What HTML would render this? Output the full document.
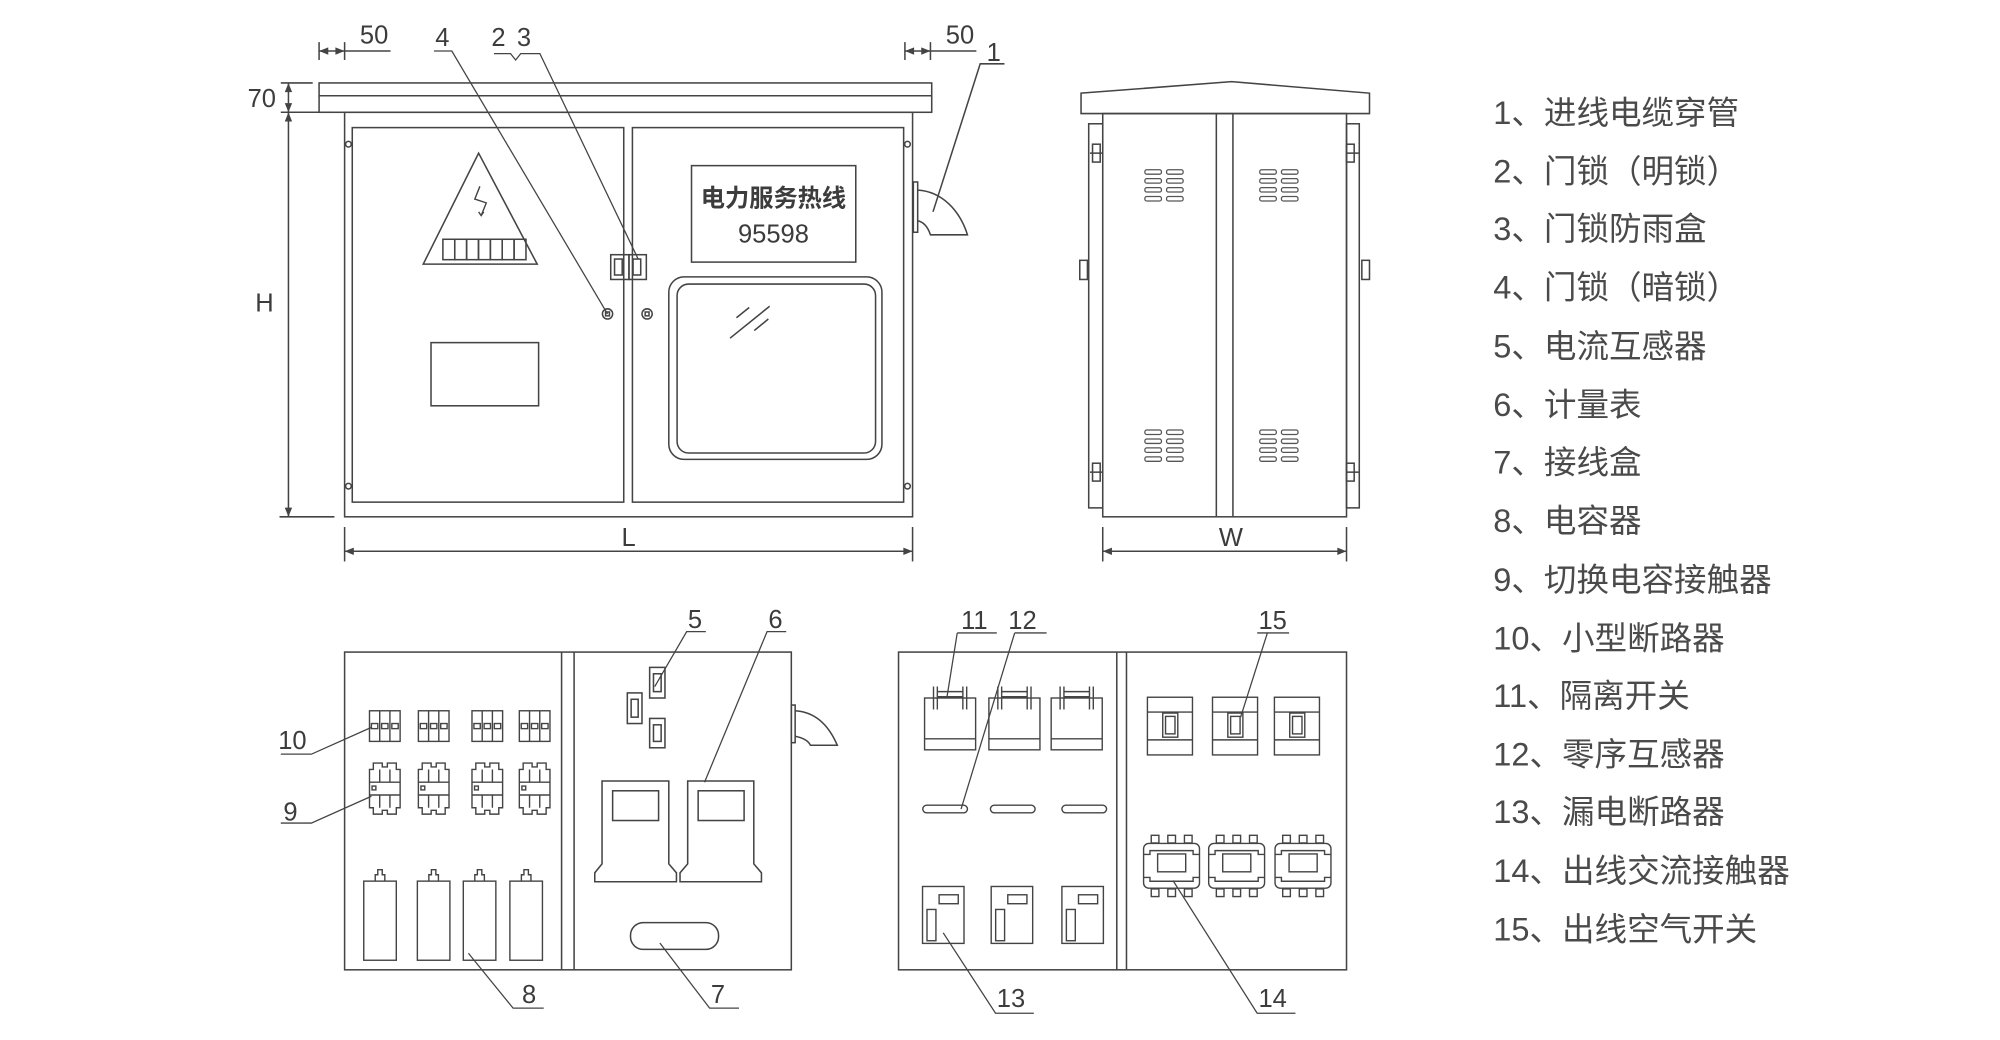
<!DOCTYPE html>
<html><head><meta charset="utf-8"><style>
html,body{margin:0;padding:0;background:#fff;width:2000px;height:1040px;overflow:hidden}
svg{display:block}
text{font-family:"Liberation Sans Narrow","Liberation Sans","Noto Sans CJK SC",sans-serif;fill:#3c3c3c}
.lg{font-family:"Liberation Sans","Noto Sans CJK SC",sans-serif;font-size:25.5px;fill:#4a4a4a}
</style></head><body>
<svg width="2000" height="1040" viewBox="0 0 1567 815" preserveAspectRatio="none" xmlns="http://www.w3.org/2000/svg">
<defs>
<marker id="ar" viewBox="0 0 10 10" refX="10" refY="5" markerWidth="8" markerHeight="6" orient="auto-start-reverse"><path d="M0,1 L10,5 L0,9 Z" fill="#444"/></marker>
<g id="vent" fill="none" stroke="#555" stroke-width="1">
<rect x="0" y="0" width="13" height="3.5" rx="1.5"/><rect x="17" y="0" width="13" height="3.5" rx="1.5"/>
<rect x="0" y="7" width="13" height="3.5" rx="1.5"/><rect x="17" y="7" width="13" height="3.5" rx="1.5"/>
<rect x="0" y="14" width="13" height="3.5" rx="1.5"/><rect x="17" y="14" width="13" height="3.5" rx="1.5"/>
<rect x="0" y="21" width="13" height="3.5" rx="1.5"/><rect x="17" y="21" width="13" height="3.5" rx="1.5"/>
</g>
<g id="mcb" fill="none" stroke="#444" stroke-width="1.1">
<rect x="0" y="0" width="24" height="24"/><line x1="8" y1="0" x2="8" y2="24"/><line x1="16" y1="0" x2="16" y2="24"/>
<rect x="1.5" y="10" width="5" height="4"/><rect x="9.5" y="10" width="5" height="4"/><rect x="17.5" y="10" width="5" height="4"/>
</g>
<g id="kc" fill="none" stroke="#444" stroke-width="1.1">
<path d="M3,0 H10 V3 H14 V0 H21 V5 H24 V35 H21 V40 H14 V37 H10 V40 H3 V35 H0 V5 H3 Z"/>
<line x1="0" y1="15" x2="24" y2="15"/><line x1="0" y1="25" x2="24" y2="25"/>
<rect x="2" y="18" width="3" height="3"/>
<line x1="8" y1="5" x2="8" y2="15"/><line x1="16" y1="5" x2="16" y2="15"/>
<line x1="8" y1="25" x2="8" y2="35"/><line x1="16" y1="25" x2="16" y2="35"/>
</g>
<g id="cap" fill="none" stroke="#444" stroke-width="1.1">
<rect x="0" y="9" width="25.5" height="62"/><path d="M9,9 V4 H11 V0 H14.5 V4 H16.5 V9"/>
</g>
<g id="iso" fill="none" stroke="#444" stroke-width="1.1">
<rect x="0" y="9" width="40" height="40.6"/><line x1="0" y1="41" x2="40" y2="41"/>
<path d="M7,18 V0 M10,18 V0 M30,18 V0 M33,18 V0 M10,4 H30 M10,8 H30"/>
</g>
<g id="zct"><rect x="0" y="0" width="35" height="6" rx="3" fill="none" stroke="#444" stroke-width="1.1"/></g>
<g id="rcd" fill="none" stroke="#444" stroke-width="1.1">
<rect x="0" y="0" width="32.5" height="44.6"/><rect x="13" y="6.5" width="15" height="7"/><rect x="3.5" y="18" width="7" height="24.5"/>
</g>
<g id="asw" fill="none" stroke="#444" stroke-width="1.1">
<rect x="0" y="0" width="35.3" height="45.2"/><line x1="0" y1="11.6" x2="35.3" y2="11.6"/><line x1="0" y1="33.4" x2="35.3" y2="33.4"/>
<rect x="12" y="12.4" width="11.8" height="18.9"/><rect x="14.2" y="15" width="7.4" height="13.7"/>
</g>
<g id="ac" fill="none" stroke="#444" stroke-width="1.1">
<rect x="0" y="6.4" width="43.8" height="35" rx="4"/>
<path d="M0,15 H5 V12 H38.8 V15 H43.8 M0,33 H5 V36 H38.8 V33 H43.8"/>
<rect x="11" y="14.6" width="22" height="14"/>
<rect x="6" y="0" width="6" height="6"/><rect x="19" y="0" width="6" height="6"/><rect x="32" y="0" width="6" height="6"/>
<rect x="6" y="42" width="6" height="6"/><rect x="19" y="42" width="6" height="6"/><rect x="32" y="42" width="6" height="6"/>
</g>
</defs>

<g fill="none" stroke="#444" stroke-width="1.2">
<rect x="250" y="65" width="480" height="23"/><line x1="250" y1="75" x2="730" y2="75"/>
<rect x="270" y="88" width="445" height="317"/>
<rect x="276" y="100" width="212.7" height="293.5"/>
<rect x="495.5" y="100" width="212.5" height="293.5"/>
<circle cx="273" cy="113" r="2.2"/><circle cx="273" cy="381" r="2.2"/><circle cx="711" cy="113" r="2.2"/><circle cx="711" cy="381" r="2.2"/>
<path d="M375,120 L331.6,207 L420.9,207 Z"/>
<path d="M376,146 L372,156 L381,159 L377,169 M375,166 L377,169 L379,166" stroke-width="1.1"/>
<rect x="347" y="187.5" width="9.3" height="16"/><rect x="356.3" y="187.5" width="9.3" height="16"/><rect x="365.6" y="187.5" width="9.3" height="16"/><rect x="374.9" y="187.5" width="9.3" height="16"/><rect x="384.2" y="187.5" width="9.3" height="16"/><rect x="393.5" y="187.5" width="9.3" height="16"/><rect x="402.8" y="187.5" width="9.3" height="16"/>
<rect x="337.7" y="268.5" width="84.3" height="49.5"/>
<rect x="478.5" y="199.6" width="14.3" height="19.4"/><rect x="481.5" y="203" width="6" height="12.5"/>
<rect x="492.8" y="199.6" width="13.6" height="19.4"/><rect x="496" y="203" width="6" height="12.5"/>
<circle cx="476" cy="246" r="4"/><rect x="474.5" y="244.5" width="3" height="3"/>
<circle cx="507" cy="246" r="4"/><rect x="505.5" y="244.5" width="3" height="3"/>
<rect x="541.8" y="129.8" width="128.7" height="75.6"/>
<rect x="524" y="217" width="167" height="143" rx="12"/>
<rect x="530.5" y="222.6" width="155.5" height="132.4" rx="9"/>
<line x1="572" y1="265" x2="603" y2="240"/><line x1="577" y1="249" x2="587" y2="241"/><line x1="591" y1="259" x2="602" y2="250"/>
<rect x="715.6" y="142.6" width="3.4" height="39.4"/>
<path d="M719,149 C738,150 752,165 758,184 L729,184 C727,178 724,174 719,173"/>
<line x1="250" y1="33" x2="250" y2="47"/><line x1="270" y1="33" x2="270" y2="47"/>
<line x1="250" y1="40" x2="270" y2="40" marker-start="url(#ar)" marker-end="url(#ar)"/>
<line x1="270" y1="40" x2="306" y2="40"/>
<line x1="709" y1="33" x2="709" y2="47"/><line x1="729" y1="33" x2="729" y2="47"/>
<line x1="709" y1="40" x2="729" y2="40" marker-start="url(#ar)" marker-end="url(#ar)"/>
<line x1="729" y1="40" x2="765" y2="40"/>
<path d="M787,50 H768 L731,166"/>
<line x1="220" y1="65" x2="245" y2="65"/><line x1="220" y1="88" x2="260" y2="88"/>
<line x1="226" y1="65" x2="226" y2="88" marker-start="url(#ar)" marker-end="url(#ar)"/>
<line x1="226" y1="88" x2="226" y2="405" marker-start="url(#ar)" marker-end="url(#ar)"/>
<line x1="219" y1="405" x2="262" y2="405"/>
<line x1="270" y1="413" x2="270" y2="440"/><line x1="715" y1="413" x2="715" y2="440"/>
<line x1="270" y1="432" x2="715" y2="432" marker-start="url(#ar)" marker-end="url(#ar)"/>
<path d="M340,40 H354 L476,246" stroke-width="1"/>
<path d="M387,42 H400 L404,47 L408,42 H423 L500,203" stroke-width="1"/>

<path d="M847,73 L965,64 L1073,73 L1073,89 L847,89 Z"/>
<rect x="864" y="89" width="191" height="316"/>
<rect x="853" y="97" width="11" height="301"/><rect x="1055" y="97" width="10" height="301"/>
<line x1="953" y1="89" x2="953" y2="405"/><line x1="966" y1="89" x2="966" y2="405"/>
<rect x="856" y="113" width="6" height="14"/><line x1="854" y1="120" x2="864" y2="120"/>
<rect x="856" y="363" width="6" height="14"/><line x1="854" y1="370" x2="864" y2="370"/>
<rect x="1055" y="113" width="6" height="14"/><line x1="1055" y1="120" x2="1065" y2="120"/>
<rect x="1055" y="363" width="6" height="14"/><line x1="1055" y1="370" x2="1065" y2="370"/>
<rect x="846" y="204" width="6" height="15"/><rect x="1067" y="204" width="6" height="15"/>
<line x1="864" y1="413" x2="864" y2="440"/><line x1="1055" y1="413" x2="1055" y2="440"/>
<line x1="864" y1="432" x2="1055" y2="432" marker-start="url(#ar)" marker-end="url(#ar)"/>
</g>
<use href="#vent" x="897" y="133"/><use href="#vent" x="987" y="133"/>
<use href="#vent" x="897" y="337"/><use href="#vent" x="987" y="337"/>

<g fill="none" stroke="#444" stroke-width="1.2">
<rect x="270" y="511" width="350" height="249"/>
<line x1="440" y1="511" x2="440" y2="760"/><line x1="449.8" y1="511" x2="449.8" y2="760"/>
<rect x="509" y="523" width="12" height="24"/><rect x="512" y="528" width="6" height="14"/>
<rect x="491.5" y="543" width="11.5" height="24"/><rect x="494.5" y="548" width="5.5" height="14"/>
<rect x="509" y="563" width="12" height="23"/><rect x="512" y="568" width="6" height="13"/>
<path d="M471.7,677 V612 H524 V677 L530,684 V691 H466 V684 Z"/><rect x="480" y="619.7" width="36" height="23.3"/>
<path d="M538.8,677 V612 H590.6 V677 L596.6,684 V691 H532.8 V684 Z"/><rect x="547" y="619.7" width="36" height="23.3"/>
<rect x="494" y="723" width="69" height="21" rx="10"/>
<rect x="620" y="552.5" width="3" height="29.5"/>
<path d="M623,557 C640,558 650,570 656,584 L635,584 C633,580 628,578 623,577"/>
<path d="M553,495 H538 L513,538" stroke-width="1"/>
<path d="M616,495 H601 L552,613" stroke-width="1"/>
<path d="M220,591 H244 L291,570" stroke-width="1"/>
<path d="M220,645 H244 L291,624" stroke-width="1"/>
<path d="M426,790 H402 L367,747" stroke-width="1"/>
<path d="M579,790 H556 L517,739" stroke-width="1"/>

<rect x="704" y="511" width="351" height="249"/>
<line x1="875" y1="511" x2="875" y2="760"/><line x1="882.6" y1="511" x2="882.6" y2="760"/>
<path d="M750,496 H781 M742,546 L750,496" stroke-width="1"/>
<path d="M795,496 H820 M795,496 L753,634" stroke-width="1"/>
<path d="M985,496 H1010 M993,496 L972,562" stroke-width="1"/>
<path d="M810,794 H780 L739,731" stroke-width="1"/>
<path d="M1015,794 H985 L919,690" stroke-width="1"/>
</g>
<use href="#mcb" x="289.5" y="557"/><use href="#mcb" x="327.8" y="557"/><use href="#mcb" x="369.8" y="557"/><use href="#mcb" x="406.9" y="557"/>
<use href="#kc" x="289.5" y="598"/><use href="#kc" x="327.8" y="598"/><use href="#kc" x="369.8" y="598"/><use href="#kc" x="406.9" y="598"/>
<use href="#cap" x="285" y="681.5"/><use href="#cap" x="327" y="681.5"/><use href="#cap" x="363" y="681.5"/><use href="#cap" x="399.5" y="681.5"/>
<use href="#iso" x="724.4" y="538"/><use href="#iso" x="774.8" y="538"/><use href="#iso" x="823.6" y="538"/>
<use href="#zct" x="723" y="631"/><use href="#zct" x="776" y="631"/><use href="#zct" x="832" y="631"/>
<use href="#rcd" x="722.8" y="694.7"/><use href="#rcd" x="776.6" y="694.7"/><use href="#rcd" x="832" y="694.7"/>
<use href="#asw" x="899" y="546.4"/><use href="#asw" x="950" y="546.4"/><use href="#asw" x="998.5" y="546.4"/>
<use href="#ac" x="896" y="654.6"/><use href="#ac" x="947" y="654.6"/><use href="#ac" x="999" y="654.6"/>

<g font-size="20">
<text x="282" y="34">50</text><text x="741" y="34">50</text>
<text x="773" y="48">1</text>
<text x="341" y="36">4</text><text x="385" y="36">2</text><text x="405" y="36">3</text>
<text x="194" y="84">70</text>
<text x="200" y="244">H</text>
<text x="487" y="428">L</text>
<text x="955" y="428">W</text>
<text x="539" y="492">5</text><text x="602" y="492">6</text>
<text x="218" y="587">10</text><text x="222" y="643">9</text>
<text x="409" y="786">8</text><text x="557" y="786">7</text>
<text x="753" y="493">11</text><text x="790" y="493">12</text><text x="986" y="493">15</text>
<text x="781" y="789">13</text><text x="986" y="789">14</text>
</g>
<text x="606" y="162" text-anchor="middle" font-size="19" style="font-family:'Liberation Sans','Noto Sans CJK SC',sans-serif;font-weight:bold">电力服务热线</text>
<text x="606" y="190" text-anchor="middle" font-size="20" style="font-family:'Liberation Sans',sans-serif">95598</text>

<g>
<text class="lg" x="1170" y="97">1、进线电缆穿管</text>
<text class="lg" x="1170" y="143">2、门锁（明锁）</text>
<text class="lg" x="1170" y="188">3、门锁防雨盒</text>
<text class="lg" x="1170" y="234">4、门锁（暗锁）</text>
<text class="lg" x="1170" y="280">5、电流互感器</text>
<text class="lg" x="1170" y="326">6、计量表</text>
<text class="lg" x="1170" y="371">7、接线盒</text>
<text class="lg" x="1170" y="417">8、电容器</text>
<text class="lg" x="1170" y="463">9、切换电容接触器</text>
<text class="lg" x="1170" y="509">10、小型断路器</text>
<text class="lg" x="1170" y="554">11、隔离开关</text>
<text class="lg" x="1170" y="600">12、零序互感器</text>
<text class="lg" x="1170" y="645">13、漏电断路器</text>
<text class="lg" x="1170" y="691">14、出线交流接触器</text>
<text class="lg" x="1170" y="737">15、出线空气开关</text>
</g>
</svg>
</body></html>
